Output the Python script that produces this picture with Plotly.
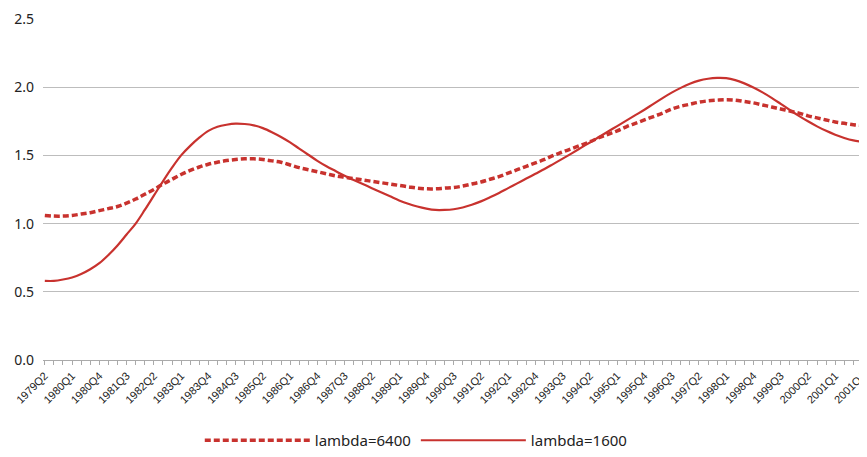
import plotly.graph_objects as go

# quarters 1979Q2 .. 2001Q4
quarters = []
for yr in range(1979, 2002):
    for q in range(1, 5):
        if yr == 1979 and q < 2:
            continue
        quarters.append(f"{yr}Q{q}")

lambda_6400 = [
    1.06, 1.055, 1.055, 1.06, 1.07, 1.08, 1.095, 1.11, 1.125, 1.15,
    1.18, 1.215, 1.25, 1.29, 1.325, 1.36, 1.39, 1.415, 1.435, 1.45,
    1.462, 1.47, 1.475, 1.475, 1.47, 1.46, 1.45, 1.43, 1.41, 1.395,
    1.38, 1.365, 1.35, 1.34, 1.33, 1.32, 1.31, 1.30, 1.29, 1.28,
    1.27, 1.26, 1.255, 1.255, 1.26, 1.265, 1.275, 1.29, 1.305, 1.325,
    1.345, 1.37, 1.395, 1.42, 1.445, 1.47, 1.50, 1.525, 1.55, 1.575,
    1.60, 1.63, 1.655, 1.68, 1.71, 1.735, 1.76, 1.785, 1.81, 1.84,
    1.86, 1.875, 1.89, 1.90, 1.905, 1.908, 1.905, 1.895, 1.885, 1.87,
    1.855, 1.84, 1.825, 1.81, 1.79, 1.775, 1.76, 1.745, 1.735, 1.725,
    1.72,
]

lambda_1600 = [
    0.58, 0.58, 0.59, 0.605, 0.63, 0.665, 0.71, 0.77, 0.84, 0.92,
    1.00, 1.10, 1.205, 1.31, 1.41, 1.50, 1.57, 1.63, 1.68, 1.71,
    1.725, 1.733, 1.73, 1.72, 1.70, 1.67, 1.635, 1.595, 1.55, 1.505,
    1.46, 1.42, 1.385, 1.35, 1.32, 1.29, 1.26, 1.23, 1.20, 1.17,
    1.145, 1.125, 1.11, 1.10, 1.10, 1.105, 1.118, 1.138, 1.163, 1.193,
    1.225, 1.26, 1.295, 1.33, 1.365, 1.40, 1.438, 1.476, 1.515, 1.555,
    1.595, 1.635, 1.675, 1.715, 1.755, 1.795, 1.835, 1.878, 1.92, 1.96,
    1.995, 2.025, 2.048, 2.062, 2.068, 2.066, 2.052, 2.028, 1.998, 1.962,
    1.922, 1.878, 1.833, 1.79, 1.75, 1.713, 1.68, 1.652, 1.628, 1.61,
    1.60,
]

red = "#C8322E"

fig = go.Figure()
fig.add_trace(go.Scatter(
    x=quarters, y=lambda_6400, name="lambda=6400", mode="lines",
    line=dict(color=red, width=3.5, dash="6px,3px", shape="spline"),
))
fig.add_trace(go.Scatter(
    x=quarters, y=lambda_1600, name="lambda=1600", mode="lines",
    line=dict(color=red, width=2.2, shape="spline"),
))

ticktext = [q if i % 3 == 0 else "" for i, q in enumerate(quarters)]

# page body has an 8px margin, so the figure is a bit smaller than the window
fig.update_layout(
    width=859, height=449,
    margin=dict(l=35, r=0, t=11, b=91),
    plot_bgcolor="white", paper_bgcolor="white",
    font=dict(family="Noto Sans", color="#222222"),
    showlegend=True,
    legend=dict(
        orientation="h", x=0.453, xanchor="center", y=-0.236, yanchor="middle",
        font=dict(size=15, color="#222222"), itemwidth=105, traceorder="normal",
    ),
    xaxis=dict(
        type="category", range=[-0.2, 90.5], automargin=False,
        tickmode="array", tickvals=quarters, ticktext=ticktext,
        tickangle=-45, tickfont=dict(size=11, family="Liberation Sans"),
        ticks="outside", ticklen=4, tickcolor="#aaaaaa",
        showline=True, linecolor="#aaaaaa", showgrid=False,
    ),
    yaxis=dict(
        range=[0, 2.5], dtick=0.5, tickformat=".1f", automargin=False,
        tickfont=dict(size=14),
        showgrid=True, gridcolor="#bdbdbd", gridwidth=1,
        zeroline=False, ticklabelstandoff=8,
    ),
)

fig.write_html("out.html")
